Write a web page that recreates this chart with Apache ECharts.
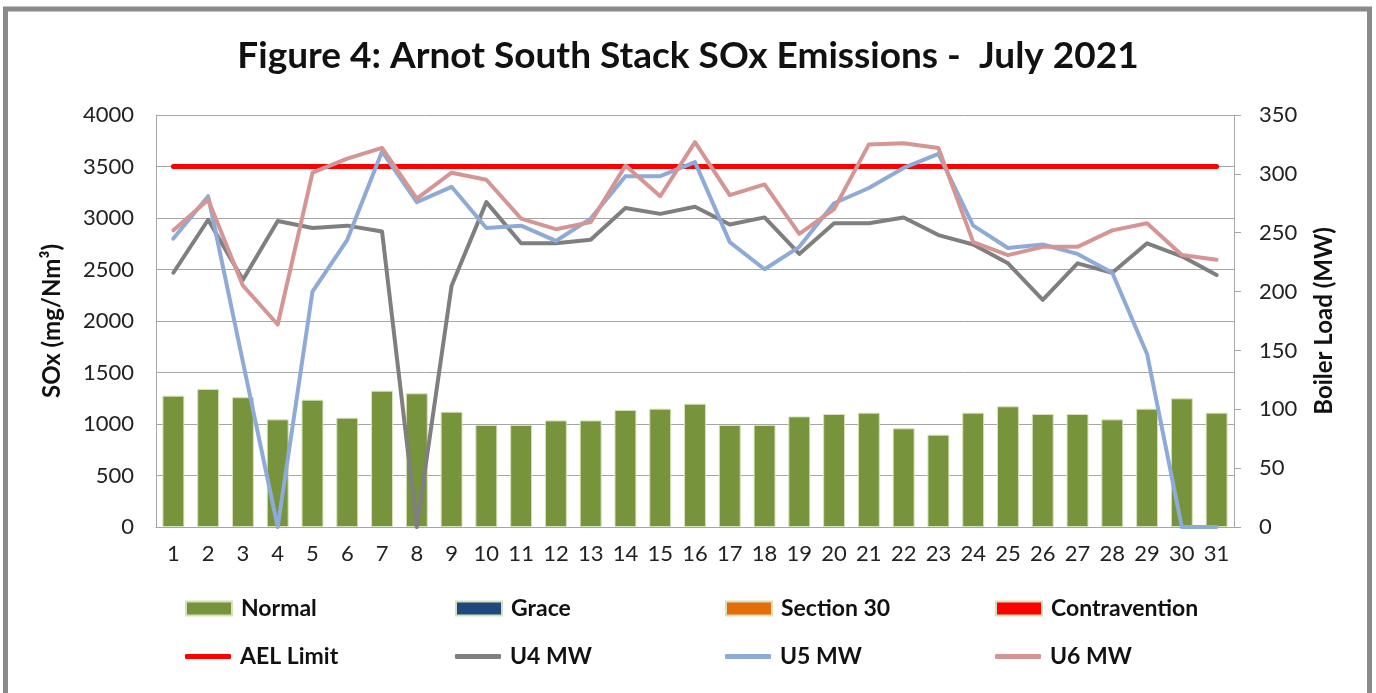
<!DOCTYPE html>
<html>
<head>
<meta charset="utf-8">
<script src="https://cdn.jsdelivr.net/npm/echarts@6/dist/echarts.min.js"></script>
<style>
  html, body { margin: 0; padding: 0; background: #fff; }
  #container { width: 1376px; height: 693px; }
</style>
</head>
<body>
<div id="container"></div>
<script>
var days = ['1','2','3','4','5','6','7','8','9','10','11','12','13','14','15','16','17','18','19','20','21','22','23','24','25','26','27','28','29','30','31']

// SOx, mg/Nm3 (left axis)
var normal = [1275,1340,1260,1045,1236,1061,1323,1298,1119,990,990,1035,1035,1136,1149,1197,990,990,1074,1097,1110,958,896,1110,1172,1097,1097,1045,1149,1249,1110]
var grace = []
var section30 = []
var contravention = []
var aelLimit = [3500,3500,3500,3500,3500,3500,3500,3500,3500,3500,3500,3500,3500,3500,3500,3500,3500,3500,3500,3500,3500,3500,3500,3500,3500,3500,3500,3500,3500,3500,3500]

// boiler load, MW (right axis)
var u4 = [216,261,210,260,254,256,251,0,205,276,241,241,244,271,266,272,257,263,232,258,258,263,248,240,224,193,224,216,241,230,214]
var u5 = [245,281,140,0,200,244,319,276,289,254,256,243,262,298,298,310,242,219,238,275,288,305,317,256,237,240,232,216,147,0,0]
var u6 = [252,278,205,172,301,313,322,279,301,295,262,253,259,307,281,327,282,291,249,270,325,326,322,242,231,238,238,252,258,231,227]

var sox = [0,500,1000,1500,2000,2500,3000,3500,4000]
var mw = [0,50,100,150,200,250,300,350]

var font = 'Lato'
var gridColor = '#a6a6a6'

var myChart = echarts.init(document.getElementById('container'))

// one legend per slot so the columns line up like the Excel legend
function legendAt(name, left, top, isLine) {
  return {
    data: [{ name: name, icon: isLine ? 'roundRect' : 'rect' }],
    left: left,
    top: top,
    padding: 0,
    itemWidth: 46,
    itemHeight: isLine ? 5 : 14,
    selectedMode: false,
    textStyle: { fontFamily: font, fontWeight: 'bold', fontSize: 23, color: '#111', padding: [0, 0, 0, 4] }
  }
}

function barSeries(name, color, values) {
  return {
    name: name,
    type: 'bar',
    stack: 'sox',
    barWidth: '63%',
    itemStyle: { color: color, borderColor: '#d5e2b8', borderWidth: 1 },
    data: values
  }
}

function lineSeries(name, color, width, axis, values) {
  return {
    name: name,
    type: 'line',
    yAxisIndex: axis,
    symbol: 'none',
    lineStyle: { color: color, width: width, cap: 'round', join: 'round' },
    itemStyle: { color: color },
    data: values
  }
}

var option = {
  animation: false,
  title: {
    text: 'Figure 4: Arnot South Stack SOx Emissions -  July 2021',
    left: 'center',
    top: 33,
    textStyle: { fontFamily: font, fontWeight: 'bold', fontSize: 37, color: '#111' }
  },
  graphic: [{
    type: 'rect',
    shape: { x: 5.5, y: 9, width: 1364, height: 700 },
    style: { fill: 'none', stroke: '#8a8a8a', lineWidth: 5 },
    silent: true
  }],
  legend: [
    legendAt('Normal', 185, 597),
    legendAt('Grace', 455, 597),
    legendAt('Section 30', 725, 597),
    legendAt('Contravention', 995, 597),
    legendAt('AEL Limit', 185, 645, true),
    legendAt('U4 MW', 455, 645, true),
    legendAt('U5 MW', 725, 645, true),
    legendAt('U6 MW', 995, 645, true)
  ],
  grid: { left: 156, right: 142, top: 115, bottom: 166 },
  xAxis: {
    type: 'category',
    data: days,
    axisLine: { lineStyle: { color: gridColor } },
    axisTick: { show: false },
    axisLabel: { fontFamily: font, fontSize: 22, color: '#222', margin: 16, interval: 0 }
  },
  yAxis: [{
    type: 'value',
    min: sox[0],
    max: sox[sox.length - 1],
    interval: 500,
    name: 'SOx (mg/Nm³)',
    nameLocation: 'middle',
    nameRotate: 90,
    nameGap: 92,
    nameTextStyle: { fontFamily: font, fontWeight: 'bold', fontSize: 24, color: '#111' },
    axisLine: { show: true, lineStyle: { color: gridColor } },
    axisTick: { show: false },
    axisLabel: { fontFamily: font, fontSize: 22, color: '#222', margin: 22, formatter: function(v) { return String(v) } },
    splitLine: { lineStyle: { color: gridColor, width: 1 } }
  }, {
    type: 'value',
    min: mw[0],
    max: mw[mw.length - 1],
    interval: 50,
    name: 'Boiler Load (MW)',
    nameLocation: 'middle',
    nameRotate: 90,
    nameGap: 78,
    nameTextStyle: { fontFamily: font, fontWeight: 'bold', fontSize: 24, color: '#111' },
    axisLine: { show: true, lineStyle: { color: gridColor } },
    axisTick: { show: true, inside: false, length: 7, lineStyle: { color: gridColor } },
    axisLabel: { fontFamily: font, fontSize: 22, color: '#222', margin: 25, formatter: function(v) { return String(v) } },
    splitLine: { show: false }
  }],
  series: [
    barSeries('Normal', '#77933c', normal),
    barSeries('Grace', '#1f497d', grace),
    barSeries('Section 30', '#e46c0a', section30),
    barSeries('Contravention', '#ff0000', contravention),
    lineSeries('AEL Limit', '#ff0000', 5, 0, aelLimit),
    lineSeries('U4 MW', '#7f7f7f', 4, 1, u4),
    lineSeries('U5 MW', '#8eaad6', 4, 1, u5),
    lineSeries('U6 MW', '#d59595', 4, 1, u6)
  ]
}

myChart.setOption(option)
</script>
</body>
</html>
